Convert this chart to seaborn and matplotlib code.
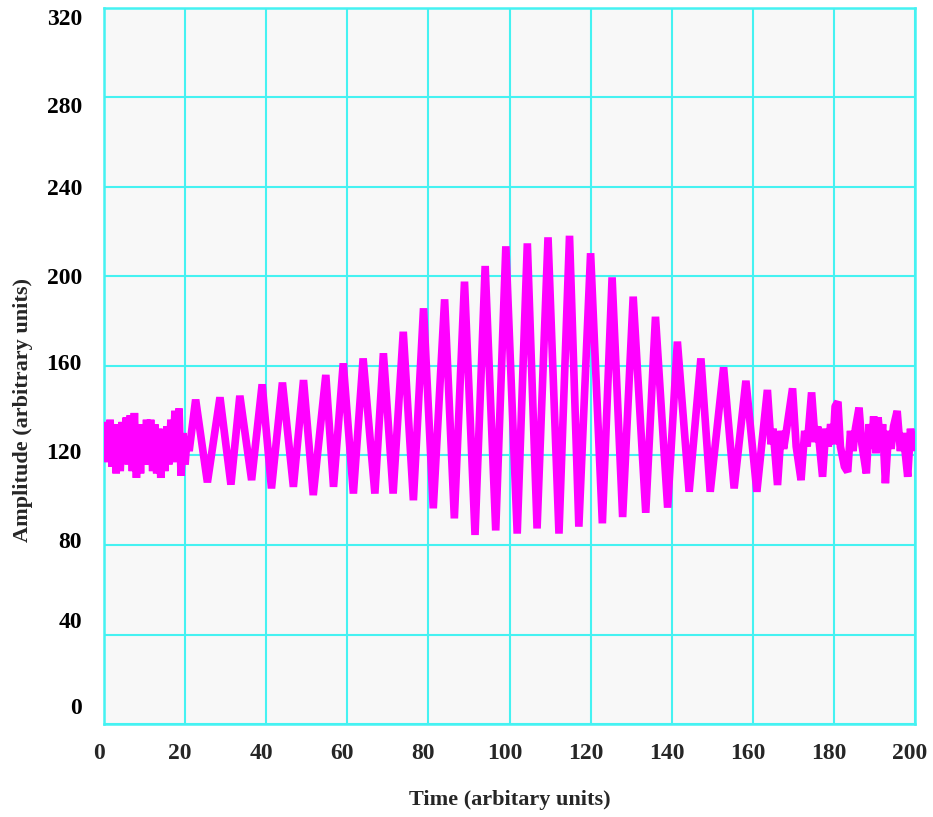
import matplotlib
matplotlib.use("Agg")
import matplotlib.pyplot as plt
import matplotlib.transforms as mtransforms
import seaborn as sns
import pandas as pd

# ---- data (extrema / ripple points of the trace) ----
time_a = [0.0, 0.5, 1.0, 1.5, 2.0, 2.5, 3.0, 3.5, 4.0, 4.5, 5.0, 5.5, 6.0, 6.5, 7.0,
          7.5, 8.0, 8.5, 9.0, 9.5, 10.0, 10.5, 11.0, 11.5, 12.0, 12.5, 13.0, 13.5,
          14.0, 14.5, 15.0, 15.5, 16.0, 16.5, 17.0, 17.5, 18.0, 18.5, 19.0, 19.5,
          20.0, 20.5, 21.0]
amp_a = [118, 135, 117, 136, 115, 134, 112, 133, 113, 135, 117, 137, 116, 138, 113,
         139, 110, 134, 112, 134, 116, 136, 116, 136, 113, 134, 112, 132,
         110, 131, 113, 133, 116, 136, 117, 140, 121, 141, 111, 130,
         116, 128, 122]

time_b = [22.6, 25.5, 28.6, 31.3, 33.5, 36.4, 39.0, 41.3, 44.0, 46.7, 49.2, 51.6, 54.7,
          56.6, 59.0, 61.5, 63.9, 66.8, 68.9, 71.3, 73.8, 76.3, 78.8, 81.2, 84.0, 86.4,
          88.9, 91.5, 94.0, 96.6, 99.1, 101.9, 104.4, 106.8, 109.5, 112.2, 114.8, 117.1,
          120.0, 122.9, 125.3, 127.9, 130.5, 133.6, 136.0, 139.0, 141.4, 144.3, 147.2,
          149.5, 152.8, 155.4, 158.3, 161.0]
amp_b = [145, 108, 146, 107, 146.7, 109, 151.8, 105.3, 152.6, 106, 153.7, 102.3, 156,
         106, 161.2, 103, 163.4, 103, 165.7, 103, 175.3, 100, 185.8, 96.4, 189.8, 91.9,
         197.7, 84.5, 204.7, 86.5, 213.5, 85.1, 214.8, 87.4, 217.5, 85.1, 218.2, 88.2,
         210.4, 89.7, 199.6, 92.5, 191, 94.4, 182, 96.7, 170.9, 103.8, 163.4,
         103.8, 159.4, 105.3, 153.4, 103.8]

time_c = [163.6, 164.5, 165.0, 166.1, 167.0, 167.6, 168.2, 169.8, 170.7, 171.9, 172.8,
          173.4, 174.5, 175.4, 176.0, 177.2, 178.0, 178.6, 179.2, 179.8, 180.3, 181.0,
          181.6, 182.6, 183.4, 184.1, 184.7, 185.3, 186.2, 186.9, 188.0, 188.7, 189.3,
          189.8, 190.4, 190.9, 191.5, 192.0, 192.7, 193.5, 194.1, 194.7, 195.6, 196.4,
          197.0, 197.6, 198.2, 198.9, 199.4, 199.7, 200.0]
amp_c = [149.3, 125, 132, 106.8, 131, 123, 130, 150, 124, 109, 131,
         124, 148.2, 126, 133, 110.5, 132, 124, 134, 125, 142, 144,
         124, 115, 112.7, 131, 122, 132, 141.4, 125, 112, 134, 123,
         137.5, 121, 137, 124, 134, 107.6, 131, 123, 133, 139.9, 122,
         130, 121, 110.5, 132, 122, 130.6, 125]

x_ticks = [0, 20, 40, 60, 80, 100, 120, 140, 160, 180, 200]
y_ticks = [0, 40, 80, 120, 160, 200, 240, 280, 320]

df = pd.DataFrame({"time": time_a + time_b + time_c,
                   "amplitude": amp_a + amp_b + amp_c})

# ---- styling ----
sns.set_style("white")
plt.rcParams["font.family"] = ["Liberation Serif", "DejaVu Serif"]

grid_c = "#45F2F2"
fig = plt.figure(figsize=(9.33, 8.17), dpi=100)
ax = fig.add_axes([104 / 933, 93 / 817, 811 / 933, 716 / 817])
ax.set_facecolor("#F8F8F8")

sns.lineplot(data=df, x="time", y="amplitude", ax=ax, sort=False, estimator=None,
             color="#FF00FF", linewidth=5.5, zorder=3,
             solid_joinstyle="bevel", solid_capstyle="butt")

ax.set_xlim(0, 200)
ax.set_ylim(0, 320)
ax.set_xticks(x_ticks)
ax.set_xticklabels([str(v) for v in x_ticks], fontsize=17, fontweight="bold")
ax.set_yticks(y_ticks)
ax.set_yticklabels([])
ax.tick_params(axis="both", length=0)
ax.tick_params(axis="x", pad=14)
for lab in ax.get_xticklabels():
    lab.set_transform(lab.get_transform() + mtransforms.ScaledTranslation(-5 / 100, 0, fig.dpi_scale_trans))

ax.grid(True, color=grid_c, linewidth=1.5, zorder=1)
ax.set_axisbelow(True)
for s in ax.spines.values():
    s.set_color(grid_c)
    s.set_linewidth(1.8)

# y tick labels (slightly displaced from the gridlines as in the reference)
y_label_shift_px = [-16, -12, -2, -2, -1, 2, 3, 10, 12]
ytrans = mtransforms.blended_transform_factory(ax.transAxes, ax.transData)
for v, sh in zip(y_ticks, y_label_shift_px):
    ax.text(-22 / 811, v, str(v), transform=ytrans + mtransforms.ScaledTranslation(0, -sh / 100, fig.dpi_scale_trans),
            ha="right", va="center", fontsize=17, fontweight="bold", color="black")

ax.set_xlabel("Time (arbitary units)", fontsize=16, fontweight="bold")
ax.xaxis.set_label_coords(0.5006, -0.092)
ax.set_ylabel("Amplitude (arbitrary units)", fontsize=16, fontweight="bold")
ax.yaxis.set_label_coords(-0.087, 0.4385)

fig.savefig("out.png", dpi=100, facecolor="white")
